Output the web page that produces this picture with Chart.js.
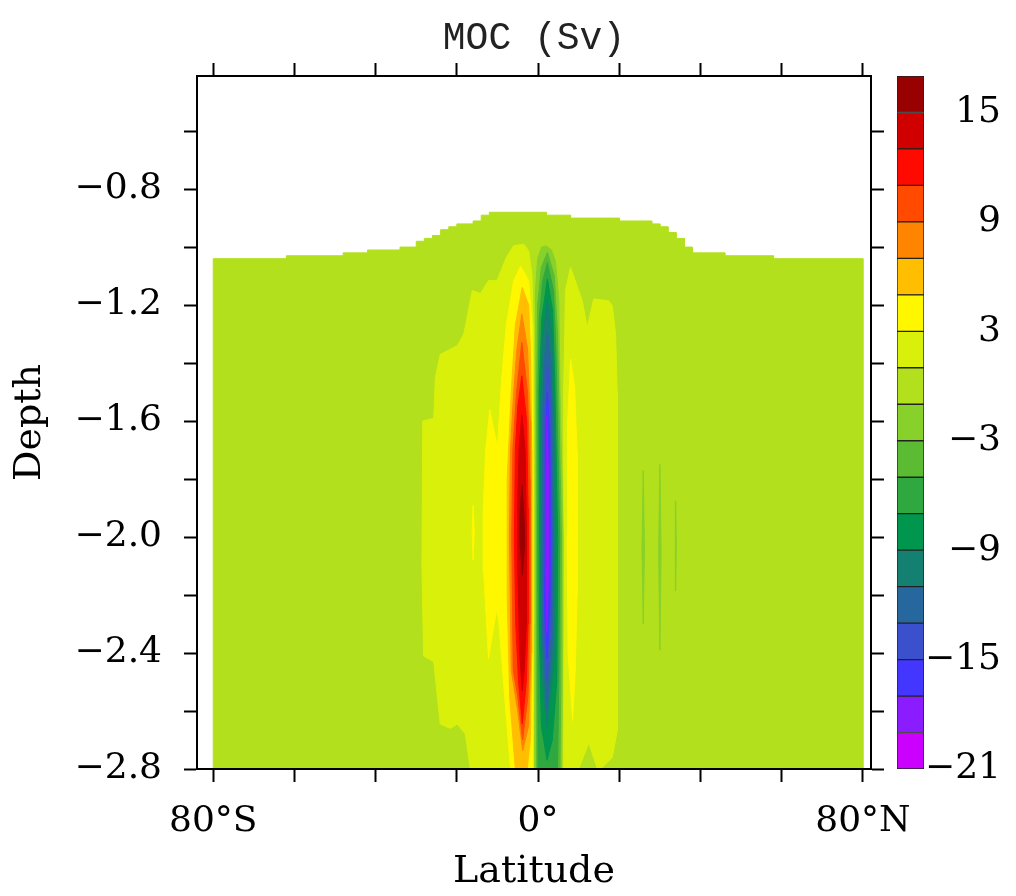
<!DOCTYPE html>
<html lang="en">
<head>
<meta charset="UTF-8">
<title>MOC (Sv)</title>
<script src="https://cdn.jsdelivr.net/npm/chart.js"></script>
<style>
    body {
        margin: 0;
        background: #fff;
    }

    .wrap {
        position: relative;
        width: 1016px;
        height: 896px;
    }

    #moc, #colorbar {
        position: absolute;
        top: 0;
    }

    #moc { left: 0; }
    #colorbar { left: 880px; }
</style>
</head>
<body>

<div class="wrap">
    <canvas id="moc" width="1016" height="896"></canvas>
    <canvas id="colorbar" width="121" height="896"></canvas>
</div>

<script>
    // contour levels (Sv) and the colour of each band, bottom to top
    const levels = [-21, -19, -17, -15, -13, -11, -9, -7, -5, -3, -1, 1, 3, 5, 7, 9, 11, 13, 15, 17];
    const levelColors = ['#cc00ff', '#8a1cff', '#4236ff', '#3a50cc', '#26689e', '#138072',
                         '#00964e', '#30a840', '#5bbc33', '#88d12a', '#b2e01c', '#d9f00b',
                         '#fff700', '#ffbf00', '#ff8400', '#ff4a00', '#ff0a00', '#d00000', '#990000'];
    const colorbarTicks = [15, 9, 3, -3, -9, -15, -21];

    const latTicks = [-80, -60, -40, -20, 0, 20, 40, 60, 80];
    const latLabels = { '-80': '80°S', '0': '0°', '80': '80°N' };
    const depthTicks = [-2.8, -2.6, -2.4, -2.2, -2.0, -1.8, -1.6, -1.4, -1.2, -1.0, -0.8, -0.6];
    const depthLabels = [-2.8, -2.4, -2.0, -1.6, -1.2, -0.8];

    // ocean floor/top of the basin: step edges (lat) and depth of each step
    const topoLat = [-80, -62, -48, -42, -34, -30, -28, -26, -24, -22, -20, -16, -14, -12,
                     2, 8, 20, 28, 30, 32, 34, 36, 38, 46, 58, 80];
    const topoDepth = [-1.04, -1.03, -1.02, -1.01, -1.0, -0.98, -0.97, -0.96, -0.94, -0.93, -0.92,
                       -0.91, -0.89, -0.88, -0.89, -0.9, -0.91, -0.92, -0.93, -0.95, -0.97, -1.0,
                       -1.02, -1.03, -1.04];

    // contour regions, [lat, depth] outlines
    // positive cell (>= level)
    const p1West = [[-16.7, -2.8], [-17.9, -2.68], [-19.9, -2.645], [-21.6, -2.66], [-24.1, -2.645],
                    [-25.7, -2.43], [-28.2, -2.41], [-28.6, -2.1], [-28.4, -1.6], [-25.7, -1.59],
                    [-25.3, -1.45], [-24.1, -1.37], [-19.9, -1.34], [-18.3, -1.3], [-16.2, -1.15],
                    [-14.2, -1.16], [-12.2, -1.115], [-10.1, -1.115], [-7.8, -1.035], [-6.0, -0.995],
                    [-3.5, -0.99], [-2.3, -1.013], [-1.5, -1.095], [-1.2, -1.27], [-1.07, -1.6],
                    [-1.07, -2.4], [-1.2, -2.8]];
    const p1East = [[6.3, -2.8], [6.4, -2.3], [6.3, -1.5], [6.75, -1.15], [8.0, -1.07], [10.9, -1.185],
                    [12.1, -1.277], [13.7, -1.179], [17.4, -1.185], [18.3, -1.202], [19.1, -1.3],
                    [19.5, -1.5], [19.5, -2.668], [18.3, -2.76], [15.4, -2.8], [14.6, -2.8],
                    [12.5, -2.71], [10.0, -2.8]];
    const p3 = [[-4.3, -1.065], [-2.3, -1.116], [-1.5, -1.266], [-1.31, -1.6], [-1.31, -2.5], [-1.4, -2.8],
                [-6.8, -2.8], [-9.7, -2.29], [-10.2, -2.25], [-12.2, -2.42], [-13.4, -2.12], [-13.5, -1.9],
                [-12.9, -1.7], [-11.9, -1.56], [-10.0, -1.69], [-9.0, -1.46], [-7.8, -1.266], [-6.0, -1.116]];
    const p3Sliver = [[-16.0, -1.89], [-15.7, -1.98], [-16.0, -2.08], [-16.25, -1.98]];
    const p3East = [[8.0, -1.386], [9.0, -1.48], [9.6, -1.7], [9.6, -2.2], [9.2, -2.45], [8.5, -2.633],
                    [7.4, -2.4], [7.15, -2.0], [7.3, -1.6]];
    const p5 = [[-3.9, -1.139], [-2.3, -1.2], [-1.8, -1.4], [-1.56, -1.7], [-1.56, -2.4], [-1.9, -2.7],
                [-2.7, -2.8], [-5.6, -2.8], [-7.0, -2.55], [-7.6, -2.2], [-7.6, -1.8], [-6.6, -1.5], [-5.6, -1.27]];
    const p7 = [[-4.0, -1.231], [-2.6, -1.35], [-1.9, -1.6], [-1.8, -2.0], [-1.8, -2.4], [-2.3, -2.65],
                [-3.8, -2.737], [-5.0, -2.6], [-6.6, -2.46], [-7.06, -2.0], [-6.8, -1.7], [-6.0, -1.5], [-5.2, -1.35]];
    const p9 = [[-4.0, -1.329], [-2.6, -1.5], [-2.05, -1.8], [-2.05, -2.3], [-2.5, -2.55], [-3.8, -2.7],
                [-5.0, -2.55], [-6.1, -2.46], [-6.48, -2.0], [-6.2, -1.7], [-5.3, -1.5]];
    const p11 = [[-4.0, -1.444], [-2.8, -1.6], [-2.46, -1.9], [-2.46, -2.3], [-2.9, -2.5], [-3.9, -2.644],
                 [-4.8, -2.5], [-5.5, -2.3], [-5.83, -2.0], [-5.6, -1.7], [-5.0, -1.55]];
    const p13 = [[-4.0, -1.58], [-3.2, -1.7], [-2.87, -2.0], [-2.9, -2.3], [-3.4, -2.45], [-3.9, -2.53],
                 [-4.5, -2.4], [-5.0, -2.1], [-5.0, -1.9], [-4.7, -1.7]];
    const p15 = [[-3.95, -1.82], [-3.35, -1.96], [-3.4, -2.04], [-3.85, -2.13], [-4.55, -2.0], [-4.5, -1.93]];

    // negative cell (<= level)
    const n1 = [[2.0, -0.996], [3.3, -1.01], [4.3, -1.05], [5.1, -1.185], [5.4, -1.5], [5.9, -1.8],
                [6.16, -2.0], [6.0, -2.5], [5.8, -2.8], [-0.8, -2.8], [-0.74, -2.3], [-0.74, -1.7],
                [-0.65, -1.3], [-0.55, -1.15], [-0.1, -1.04], [0.9, -1.0]];
    const n3 = [[2.3, -1.018], [4.0, -1.1], [4.8, -1.3], [5.2, -1.6], [5.75, -2.0], [5.6, -2.5], [5.4, -2.8],
                [-0.4, -2.8], [-0.41, -2.0], [-0.3, -1.5], [-0.1, -1.2], [0.8, -1.07]];
    const n5 = [[2.3, -1.053], [3.8, -1.15], [4.4, -1.35], [4.9, -1.7], [5.34, -2.0], [5.1, -2.5], [4.8, -2.8],
                [0.0, -2.8], [-0.08, -2.0], [0.0, -1.5], [0.3, -1.25], [1.1, -1.12]];
    const n7 = [[2.3, -1.11], [3.6, -1.22], [4.1, -1.45], [4.85, -2.0], [4.6, -2.5], [3.5, -2.7], [2.2, -2.77],
                [0.8, -2.65], [0.3, -2.3], [0.25, -2.0], [0.35, -1.5], [0.9, -1.25]];
    const n9 = [[2.3, -1.185], [3.4, -1.3], [3.9, -1.55], [4.36, -2.0], [4.1, -2.4], [2.2, -2.655],
                [0.8, -2.45], [0.58, -2.0], [0.65, -1.55], [1.2, -1.3]];
    const n11 = [[2.3, -1.289], [3.2, -1.4], [3.6, -1.65], [3.86, -2.0], [3.6, -2.35], [2.2, -2.6],
                 [1.1, -2.35], [0.99, -2.0], [1.05, -1.6], [1.5, -1.4]];
    const n13 = [[2.3, -1.403], [3.0, -1.5], [3.45, -2.0], [3.2, -2.3], [2.2, -2.495], [1.4, -2.3],
                 [1.4, -2.0], [1.5, -1.6]];
    const n15 = [[2.3, -1.5], [2.9, -1.65], [3.04, -2.0], [2.9, -2.25], [2.2, -2.42], [1.6, -2.25],
                 [1.81, -2.0], [1.8, -1.65]];
    const n17 = [[2.2, -1.58], [2.63, -1.8], [2.63, -2.1], [2.2, -2.33], [1.9, -2.1], [1.95, -1.8]];
    const n1LensA = [[25.9, -1.77], [26.2, -2.04], [25.9, -2.3], [25.6, -2.04]];
    const n1LensB = [[30.0, -1.75], [30.3, -2.05], [30.0, -2.39], [29.7, -2.05]];
    const n1LensC = [[33.9, -1.875], [34.05, -2.03], [33.9, -2.185], [33.75, -2.03]];

    // basin outline with the stepped top
    const ocean = [[topoLat[0], -2.8]];
    topoDepth.forEach((d, i) => {
        ocean.push([topoLat[i], d], [topoLat[i + 1], d]);
    });
    ocean.push([topoLat[topoLat.length - 1], -2.8]);

    // [outline, lower bound of its band], drawn in this order
    const layers = [
        [ocean, -1], [p1West, 1], [p1East, 1], [p3, 3], [p3Sliver, 3], [p3East, 3],
        [p5, 5], [p7, 7], [p9, 9], [p11, 11], [p13, 13], [p15, 15],
        [n1, -3], [n3, -5], [n5, -7], [n7, -9], [n9, -11], [n11, -13], [n13, -15], [n15, -17], [n17, -19],
        [n1LensA, -3], [n1LensB, -3], [n1LensC, -3]
    ];

    const bandColor = lo => levelColors[(lo - levels[0]) / 2];
    const minus = v => (v < 0 ? '\u2212' : '') + Math.abs(v);

    const datasets = layers.map(([pts, lo], i) => ({
        data: pts.concat([pts[0]]).map(p => ({ x: p[0], y: p[1] })),
        showLine: true,
        fill: 'shape',
        tension: 0,
        backgroundColor: bandColor(lo),
        borderColor: bandColor(lo),
        borderWidth: 1,
        pointRadius: 0,
        order: layers.length - i
    }));

    const serif = 'DejaVu Serif';
    const tickFont = { family: serif, size: 36 };
    const frame = { display: true, color: '#000', width: 2, z: 1 };
    const tickMarks = { drawOnChartArea: false, drawTicks: true, tickLength: 13, tickColor: '#000', tickWidth: 2, z: 1 };
    const setLatTicks = s => { s.ticks = latTicks.map(v => ({ value: v })); };
    const setDepthTicks = s => { s.ticks = depthTicks.map(v => ({ value: v })); };

    new Chart(document.getElementById('moc'), {
        type: 'scatter',
        data: { datasets: datasets },
        options: {
            responsive: false,
            animation: false,
            events: [],
            layout: { padding: 0 },
            plugins: {
                legend: { display: false },
                tooltip: { enabled: false }
            },
            scales: {
                x: {
                    type: 'linear',
                    position: 'bottom',
                    min: -84,
                    max: 82,
                    afterBuildTicks: setLatTicks,
                    afterFit: s => { s.height = 127; },
                    ticks: {
                        font: tickFont,
                        color: '#000',
                        padding: 18,
                        maxRotation: 0,
                        autoSkip: false,
                        callback: v => latLabels[String(v)] || ''
                    },
                    grid: tickMarks,
                    border: frame,
                    title: {
                        display: true,
                        text: 'Latitude',
                        color: '#000',
                        font: { family: serif, size: 38 },
                        padding: { top: 0, bottom: 1 }
                    }
                },
                x2: {
                    type: 'linear',
                    axis: 'x',
                    position: 'top',
                    min: -84,
                    max: 82,
                    afterBuildTicks: setLatTicks,
                    afterFit: s => { s.height = 76; },
                    ticks: { display: false },
                    grid: tickMarks,
                    border: frame,
                    title: {
                        display: true,
                        text: 'MOC (Sv)',
                        color: '#222',
                        font: { family: 'Liberation Mono', size: 38 },
                        padding: { top: 16, bottom: 0 }
                    }
                },
                y: {
                    type: 'linear',
                    position: 'left',
                    min: -2.8,
                    max: -0.41,
                    afterBuildTicks: setDepthTicks,
                    afterFit: s => { s.width = 197; },
                    ticks: {
                        font: tickFont,
                        color: '#000',
                        padding: 22,
                        autoSkip: false,
                        callback: v => depthLabels.some(d => Math.abs(d - v) < 1e-6)
                            ? (v < 0 ? '\u2212' : '') + Math.abs(v).toFixed(1) : ''
                    },
                    grid: tickMarks,
                    border: frame,
                    title: {
                        display: true,
                        text: 'Depth',
                        color: '#000',
                        font: { family: serif, size: 38 },
                        padding: { top: 7, bottom: 0 }
                    }
                },
                y2: {
                    type: 'linear',
                    axis: 'y',
                    position: 'right',
                    min: -2.8,
                    max: -0.41,
                    afterBuildTicks: setDepthTicks,
                    afterFit: s => { s.width = 145; },
                    ticks: { display: false },
                    grid: tickMarks,
                    border: frame
                }
            }
        }
    });

    // colour bar: one floating bar per band
    new Chart(document.getElementById('colorbar'), {
        type: 'bar',
        data: {
            labels: [''],
            datasets: levelColors.map((c, i) => ({
                data: [[levels[i], levels[i + 1]]],
                backgroundColor: c,
                borderColor: '#222',
                borderWidth: 1,
                borderSkipped: false,
                grouped: false,
                barPercentage: 1,
                categoryPercentage: 1
            }))
        },
        options: {
            responsive: false,
            animation: false,
            events: [],
            layout: { padding: { left: 17, top: 76, bottom: 127, right: 0 } },
            plugins: {
                legend: { display: false },
                tooltip: { enabled: false }
            },
            scales: {
                x: { display: false },
                y: {
                    position: 'right',
                    min: levels[0],
                    max: levels[levels.length - 1],
                    afterBuildTicks: s => { s.ticks = colorbarTicks.map(v => ({ value: v })); },
                    afterFit: s => { s.width = 121 - 17 - 27; },
                    grid: { display: false },
                    border: { display: false },
                    ticks: {
                        font: tickFont,
                        color: '#000',
                        crossAlign: 'far',
                        autoSkip: false,
                        callback: v => minus(v)
                    }
                }
            }
        }
    });
</script>

</body>
</html>
